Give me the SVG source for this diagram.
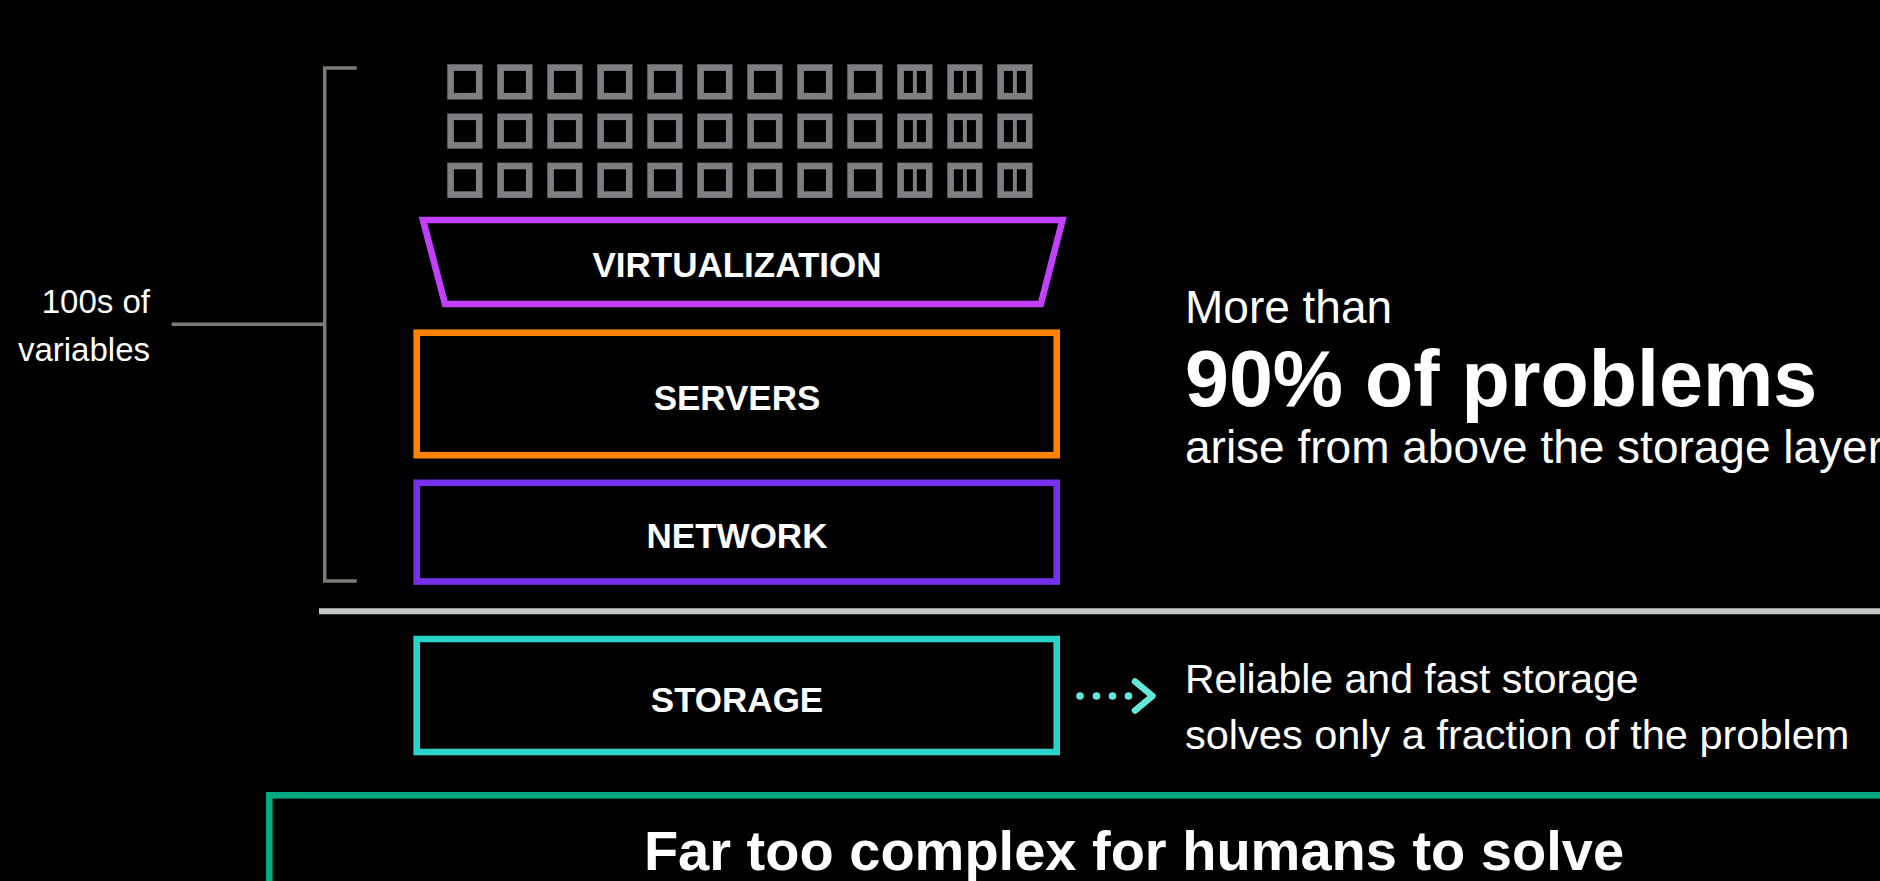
<svg xmlns="http://www.w3.org/2000/svg" xmlns:xlink="http://www.w3.org/1999/xlink" width="1880" height="881" viewBox="0 0 1880 881">
  <style>
    .lbl { font-family: "Liberation Sans", Arial, sans-serif; font-weight: bold; font-size: 35px; fill: #ffffff; text-anchor: middle; }
    .txt { font-family: "Liberation Sans", Arial, sans-serif; fill: #ffffff; }
    .box { fill: none; stroke-width: 6.6; }
    .ico { fill: none; stroke: #7e7f83; stroke-width: 6.6; }
    .brk { fill: none; stroke: #7b7c74; stroke-width: 3.5; }
  </style>
  <defs>
    <g id="ic">
      <rect class="ico" x="3.3" y="3.3" width="28.6" height="28.6"/>
    </g>
    <g id="ic2">
      <rect class="ico" x="3.3" y="3.3" width="28.6" height="28.6"/>
      <rect x="15.6" y="5" width="4" height="25.2" fill="#7e7f83"/>
    </g>
  </defs>
  <rect x="0" y="0" width="1880" height="881" fill="#000000"/>

  <g id="vms">
    <use xlink:href="#ic" x="447.3" y="64.3"/>
    <use xlink:href="#ic" x="497.3" y="64.3"/>
    <use xlink:href="#ic" x="547.3" y="64.3"/>
    <use xlink:href="#ic" x="597.3" y="64.3"/>
    <use xlink:href="#ic" x="647.3" y="64.3"/>
    <use xlink:href="#ic" x="697.3" y="64.3"/>
    <use xlink:href="#ic" x="747.3" y="64.3"/>
    <use xlink:href="#ic" x="797.3" y="64.3"/>
    <use xlink:href="#ic" x="847.3" y="64.3"/>
    <use xlink:href="#ic2" x="897.3" y="64.3"/>
    <use xlink:href="#ic2" x="947.3" y="64.3"/>
    <use xlink:href="#ic2" x="997.3" y="64.3"/>
    <use xlink:href="#ic" x="447.3" y="113.5"/>
    <use xlink:href="#ic" x="497.3" y="113.5"/>
    <use xlink:href="#ic" x="547.3" y="113.5"/>
    <use xlink:href="#ic" x="597.3" y="113.5"/>
    <use xlink:href="#ic" x="647.3" y="113.5"/>
    <use xlink:href="#ic" x="697.3" y="113.5"/>
    <use xlink:href="#ic" x="747.3" y="113.5"/>
    <use xlink:href="#ic" x="797.3" y="113.5"/>
    <use xlink:href="#ic" x="847.3" y="113.5"/>
    <use xlink:href="#ic2" x="897.3" y="113.5"/>
    <use xlink:href="#ic2" x="947.3" y="113.5"/>
    <use xlink:href="#ic2" x="997.3" y="113.5"/>
    <use xlink:href="#ic" x="447.3" y="162.7"/>
    <use xlink:href="#ic" x="497.3" y="162.7"/>
    <use xlink:href="#ic" x="547.3" y="162.7"/>
    <use xlink:href="#ic" x="597.3" y="162.7"/>
    <use xlink:href="#ic" x="647.3" y="162.7"/>
    <use xlink:href="#ic" x="697.3" y="162.7"/>
    <use xlink:href="#ic" x="747.3" y="162.7"/>
    <use xlink:href="#ic" x="797.3" y="162.7"/>
    <use xlink:href="#ic" x="847.3" y="162.7"/>
    <use xlink:href="#ic2" x="897.3" y="162.7"/>
    <use xlink:href="#ic2" x="947.3" y="162.7"/>
    <use xlink:href="#ic2" x="997.3" y="162.7"/>
  </g>

  <g id="virtualization">
    <polygon class="box" stroke="#c140ff" points="423,220 1062.5,220 1040.8,304 445,304"/>
    <text class="lbl" x="737" y="276.7">VIRTUALIZATION</text>
  </g>
  <g id="servers">
    <rect class="box" stroke="#ff8300" x="416.7" y="332.7" width="640" height="122.5"/>
    <text class="lbl" x="737" y="410">SERVERS</text>
  </g>
  <g id="network">
    <rect class="box" stroke="#7630ea" x="416.7" y="482.8" width="640" height="98.7"/>
    <text class="lbl" x="737" y="548.3">NETWORK</text>
  </g>
  <line x1="319" y1="611.3" x2="1880" y2="611.3" stroke="#c5c8c8" stroke-width="6"/>
  <g id="storage">
    <rect class="box" stroke="#2ad2c9" x="416.7" y="639" width="640" height="113"/>
    <text class="lbl" x="737" y="711.7">STORAGE</text>
  </g>

  <g id="variables">
    <text class="txt" font-size="33" text-anchor="end" x="150" y="313.3">100s of</text>
    <text class="txt" font-size="33" text-anchor="end" x="150" y="361">variables</text>
  </g>

  <g id="problems">
    <text class="txt" font-size="46" x="1185" y="323">More than</text>
    <text class="txt" font-size="79" font-weight="bold" x="1185" y="406">90% of problems</text>
    <text class="txt" font-size="46" x="1185" y="463.3">arise from above the storage layer</text>
  </g>

  <g id="fraction">
    <text class="txt" font-size="41" x="1185" y="693.3">Reliable and fast storage</text>
    <text class="txt" font-size="41.5" x="1185" y="749.3">solves only a fraction of the problem</text>
  </g>

  <g id="complex">
    <rect class="box" stroke="#01a982" x="269.3" y="795.3" width="1700" height="200"/>
    <text class="txt" font-size="56" font-weight="bold" text-anchor="middle" x="1134" y="870">Far too complex for humans to solve</text>
  </g>

  <g id="connectors">
    <path class="brk" d="M356.7,68 H324.7 V581 H356.7"/>
    <path class="brk" d="M171.7,324.3 H324.7"/>
    <g fill="#62e8d4">
      <circle cx="1080" cy="696" r="3.8"/>
      <circle cx="1096.5" cy="696" r="3.8"/>
      <circle cx="1112.5" cy="696" r="3.8"/>
      <circle cx="1128.5" cy="696" r="3.8"/>
    </g>
    <polyline points="1135,681.5 1152.5,696 1135,710.5" fill="none" stroke="#62e8d4" stroke-width="6.5" stroke-linecap="round" stroke-linejoin="round"/>
  </g>
</svg>
